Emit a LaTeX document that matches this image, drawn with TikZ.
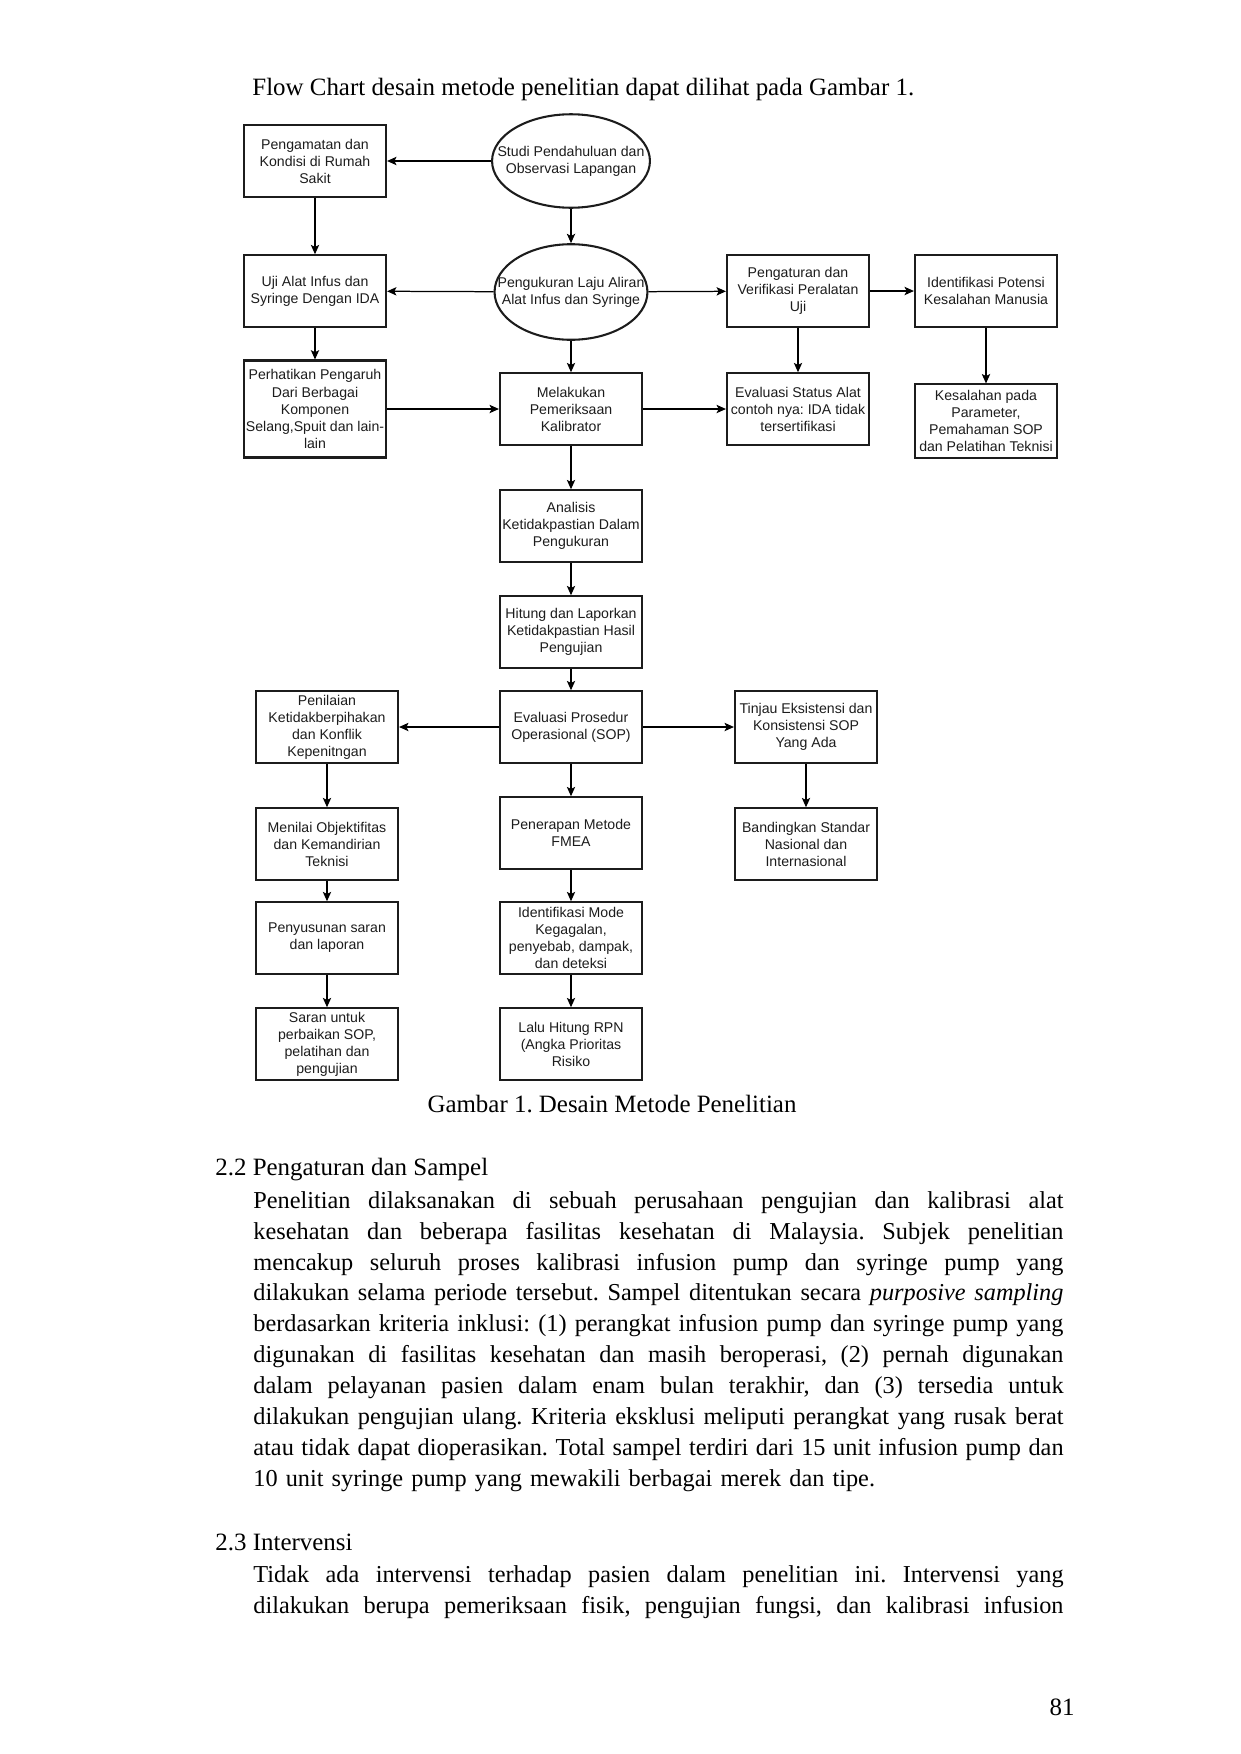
\documentclass[tikz,border=0pt]{standalone}
\usepackage{fontspec}
\setmainfont{Liberation Serif}
\newfontfamily\kotakfont{Liberation Sans}
\usepackage{tikz}
\usetikzlibrary{shapes.geometric, arrows.meta}
\definecolor{garis}{HTML}{1c1c1c}
\frenchspacing
\newcommand{\baris}[1]{\makebox[390pt][s]{\spaceskip=2.9pt plus 6pt minus 1.4pt #1}}

\begin{document}
\begin{tikzpicture}[x=0.4814pt, y=-0.4814pt, >={Stealth[length=4.5pt, width=4pt, inset=1pt]}]
        \tikzstyle{box} = [rectangle, minimum width=68.4pt, minimum height=34.4pt, inner sep=0pt, align=center, draw=garis, line width=1pt, text=garis, font=\kotakfont\fontsize{6.8}{8.2}\selectfont]
        \tikzstyle{oval} = [ellipse, minimum width=76pt, minimum height=45pt, inner xsep=-20pt, inner ysep=-6pt, align=center, draw=garis, line width=1pt, text=garis, font=\kotakfont\fontsize{6.8}{8.2}\selectfont]
        \tikzstyle{teks} = [inner sep=0pt, font=\fontsize{12}{14.92}\selectfont]
        \tikzstyle{isi} = [inner sep=0pt, text width=390pt, align=left, font=\fontsize{11.7}{14.92}\selectfont]
        \useasboundingbox (0,0) rectangle (1241,1754);
        \node (pengantar) [teks, anchor=base west] at (252,95) {Flow Chart desain metode penelitian dapat dilihat pada Gambar 1.};
        \node (studi) [oval] at (571,161) {Studi Pendahuluan dan\\Observasi Lapangan};
        \node (pengamatan) [box] at (315,161) {Pengamatan dan\\Kondisi di Rumah\\Sakit};
        \node (pengukuran) [oval, minimum width=73.6pt, minimum height=46pt] at (571,292) {Pengukuran Laju Aliran\\Alat Infus dan Syringe};
        \node (uji) [box] at (315,291) {Uji Alat Infus dan\\Syringe Dengan IDA};
        \node (pengaturan) [box] at (798,291) {Pengaturan dan\\Verifikasi Peralatan\\Uji};
        \node (potensi) [box] at (986,291) {Identifikasi Potensi\\Kesalahan Manusia};
        \node (pengaruh) [box, minimum height=46.7pt] at (315,409) {Perhatikan Pengaruh\\Dari Berbagai\\Komponen\\Selang,Spuit dan lain-\\lain};
        \node (kalibrator) [box] at (571,409) {Melakukan\\Pemeriksaan\\Kalibrator};
        \node (status) [box] at (798,409) {Evaluasi Status Alat\\contoh nya: IDA tidak\\tersertifikasi};
        \node (kesalahan) [box, minimum height=35.2pt] at (986,421) {Kesalahan pada\\Parameter,\\Pemahaman SOP\\dan Pelatihan Teknisi};
        \node (analisis) [box] at (571,526) {Analisis\\Ketidakpastian Dalam\\Pengukuran};
        \node (hitung) [box] at (571,632) {Hitung dan Laporkan\\Ketidakpastian Hasil\\Pengujian};
        \node (sop) [box] at (571,727) {Evaluasi Prosedur\\Operasional (SOP)};
        \node (penilaian) [box] at (327,727) {Penilaian\\Ketidakberpihakan\\dan Konflik\\Kepenitngan};
        \node (tinjau) [box] at (806,727) {Tinjau Eksistensi dan\\Konsistensi SOP\\Yang Ada};
        \node (objektif) [box] at (327,844) {Menilai Objektifitas\\dan Kemandirian\\Teknisi};
        \node (fmea) [box] at (571,833) {Penerapan Metode\\FMEA};
        \node (banding) [box] at (806,844) {Bandingkan Standar\\Nasional dan\\Internasional};
        \node (susun) [box] at (327,938) {Penyusunan saran\\dan laporan};
        \node (mode) [box] at (571,938) {Identifikasi Mode\\Kegagalan,\\penyebab, dampak,\\dan deteksi};
        \node (saran) [box] at (327,1044) {Saran untuk\\perbaikan SOP,\\pelatihan dan\\pengujian};
        \node (rpn) [box] at (571,1044) {Lalu Hitung RPN\\(Angka Prioritas\\Risiko};
        \draw [semithick, ->] (studi) -- (pengamatan);
        \draw [semithick, ->] (studi) -- (pengukuran);
        \draw [semithick, ->] (pengamatan) -- (uji);
        \draw [semithick, ->] (pengukuran) -- (uji);
        \draw [semithick, ->] (pengukuran) -- (pengaturan);
        \draw [semithick, ->] (pengaturan) -- (potensi);
        \draw [semithick, ->] (uji) -- (pengaruh);
        \draw [semithick, ->] (pengukuran) -- (kalibrator);
        \draw [semithick, ->] (pengaruh) -- (kalibrator);
        \draw [semithick, ->] (kalibrator) -- (status);
        \draw [semithick, ->] (pengaturan) -- (status);
        \draw [semithick, ->] (potensi) -- (kesalahan);
        \draw [semithick, ->] (kalibrator) -- (analisis);
        \draw [semithick, ->] (analisis) -- (hitung);
        \draw [semithick, ->] (hitung) -- (sop);
        \draw [semithick, ->] (sop) -- (penilaian);
        \draw [semithick, ->] (sop) -- (tinjau);
        \draw [semithick, ->] (sop) -- (fmea);
        \draw [semithick, ->] (penilaian) -- (objektif);
        \draw [semithick, ->] (tinjau) -- (banding);
        \draw [semithick, ->] (objektif) -- (susun);
        \draw [semithick, ->] (susun) -- (saran);
        \draw [semithick, ->] (fmea) -- (mode);
        \draw [semithick, ->] (mode) -- (rpn);
        \node (keterangan) [teks, anchor=base] at (612,1112) {Gambar 1. Desain Metode Penelitian};
        \node (sub22) [teks, anchor=base west] at (215,1175) {2.2 Pengaturan dan Sampel};
        \node (paragraf1) [isi, anchor=base west] at (253,1208) {\baris{Penelitian dilaksanakan di sebuah perusahaan pengujian dan kalibrasi alat}\\
                \baris{kesehatan dan beberapa fasilitas kesehatan di Malaysia. Subjek penelitian}\\
                \baris{mencakup seluruh proses kalibrasi infusion pump dan syringe pump yang}\\
                \baris{dilakukan selama periode tersebut. Sampel ditentukan secara \emph{purposive sampling}}\\
                \baris{berdasarkan kriteria inklusi: (1) perangkat infusion pump dan syringe pump yang}\\
                \baris{digunakan di fasilitas kesehatan dan masih beroperasi, (2) pernah digunakan}\\
                \baris{dalam pelayanan pasien dalam enam bulan terakhir, dan (3) tersedia untuk}\\
                \baris{dilakukan pengujian ulang. Kriteria eksklusi meliputi perangkat yang rusak berat}\\
                \baris{atau tidak dapat dioperasikan. Total sampel terdiri dari 15 unit infusion pump dan}\\
                10 unit syringe pump yang mewakili berbagai merek dan tipe.};
        \node (sub23) [teks, anchor=base west] at (215,1550) {2.3 Intervensi};
        \node (paragraf2) [isi, anchor=base west] at (253,1582) {\baris{Tidak ada intervensi terhadap pasien dalam penelitian ini. Intervensi yang}\\
                \baris{dilakukan berupa pemeriksaan fisik, pengujian fungsi, dan kalibrasi infusion}};
        \node (halaman) [teks, anchor=base east] at (1075,1715) {81};
\end{tikzpicture}
\end{document}
